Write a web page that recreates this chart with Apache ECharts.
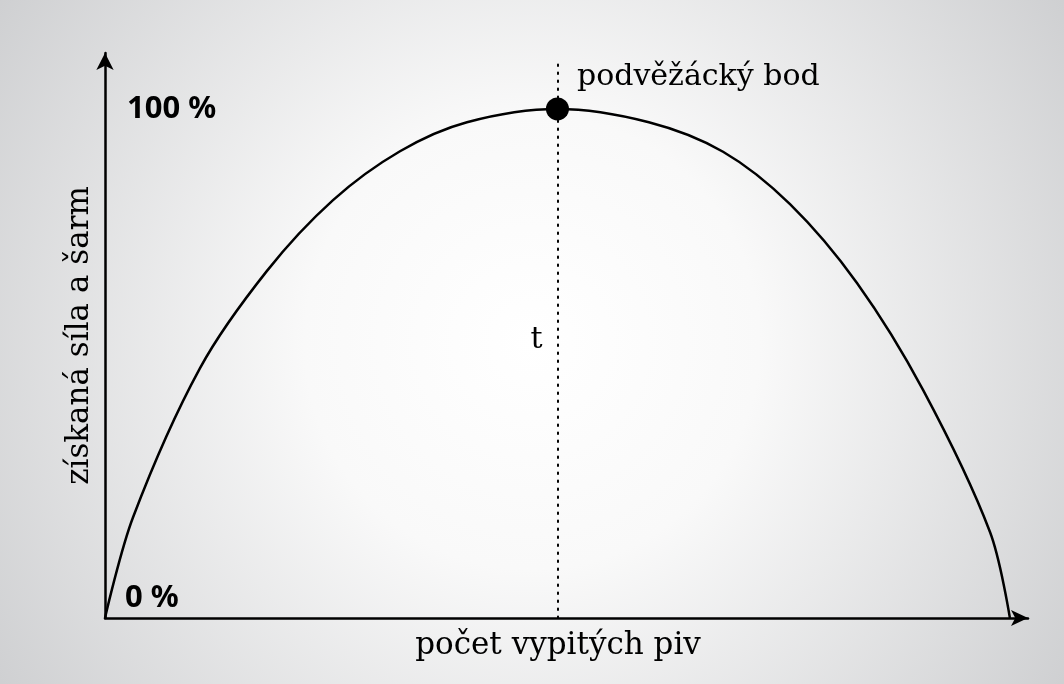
<!DOCTYPE html>
<html>
<head>
<meta charset="utf-8">
<script src="https://cdn.jsdelivr.net/npm/echarts@6/dist/echarts.min.js"></script>
<style>
    html, body { margin: 0; padding: 0; }
    #chart { width: 1064px; height: 684px; }
</style>
</head>
<body>
<div id="chart"></div>
<script>
// pocet vypitych piv (relative, 0 - 100) a ziskana sila (%)
var beers = [0, 3.1, 10.5, 17.9, 25.2, 32.6, 40.0, 50, 60.1, 68.3, 75.7, 83.1, 90.4, 97.8, 100];
var strength = [0, 19.8, 49.1, 68.2, 82.1, 91.7, 97.4, 100, 97.4, 91.6, 81.3, 65.8, 44.8, 16.9, 0];
var peak = [50, 100];
var peakLabel = 'podvěžácký bod';
var tLabel = 't';
var tPoint = [47.7, 54.6];
var yTicks = [0, 100];
var yTickLabels = ['0 %', '100 %'];
var xName = 'počet vypitých piv';
var yName = 'získaná síla a šarm';

var serif = '"DejaVu Serif", serif';
var sans = '"Noto Sans", sans-serif';

var curve = beers.map(function (b, i) { return [b, strength[i]]; });

var myChart = echarts.init(document.getElementById('chart'));
var option = {
    backgroundColor: {
        type: 'radial', x: 0.5, y: 0.5, r: 0.95,
        colorStops: [
            { offset: 0, color: '#ffffff' },
            { offset: 0.35, color: '#f9f9f9' },
            { offset: 1, color: '#cdced0' }
        ]
    },
    animation: false,
    grid: { left: 105, right: 36, top: 53, bottom: 66 },
    xAxis: {
        type: 'value', min: 0, max: 102,
        name: xName, nameLocation: 'middle', nameGap: 12,
        nameTextStyle: { fontFamily: serif, fontSize: 31, color: '#000', padding: [0, 17, 0, 0] },
        axisLine: { lineStyle: { color: '#000', width: 2.5 }, symbol: ['none', 'arrow'], symbolSize: [12, 17] },
        axisTick: { show: false },
        axisLabel: { show: false },
        splitLine: { show: false }
    },
    yAxis: {
        type: 'value', min: 0, max: 111,
        name: yName, nameLocation: 'middle', nameGap: 10, nameRotate: 90,
        nameTextStyle: { fontFamily: serif, fontSize: 31, color: '#000' },
        axisLine: { show: true, lineStyle: { color: '#000', width: 2.5 }, symbol: ['none', 'arrow'], symbolSize: [13, 17] },
        axisTick: { show: false },
        axisLabel: { show: false },
        splitLine: { show: false }
    },
    series: [
        {
            name: 'sila',
            type: 'line',
            data: curve,
            smooth: 0.33,
            showSymbol: false,
            lineStyle: { color: '#000', width: 2.5 },
            markLine: {
                silent: true,
                symbol: ['none', 'none'],
                label: { show: false },
                lineStyle: { color: '#000', width: 2, type: [1.5, 6.5], cap: 'round' },
                data: [[{ coord: [peak[0], 0] }, { coord: [peak[0], 110] }]]
            }
        },
        {
            name: 'bod',
            type: 'scatter',
            data: [peak],
            symbolSize: 23,
            itemStyle: { color: '#000', opacity: 1 },
            label: {
                show: true, position: 'right', distance: 8, offset: [0, -32],
                formatter: peakLabel,
                fontFamily: serif, fontSize: 30, color: '#000'
            }
        },
        {
            name: 't',
            type: 'scatter',
            data: [tPoint],
            symbolSize: 0,
            itemStyle: { opacity: 1 },
            label: {
                show: true, position: 'inside', formatter: tLabel,
                fontFamily: serif, fontSize: 30, color: '#000'
            }
        },
        {
            name: 'osa',
            type: 'scatter',
            symbolSize: 0,
            itemStyle: { opacity: 1 },
            data: yTicks.map(function (v, i) {
                return {
                    value: [0, v],
                    label: {
                        show: true, position: 'right', distance: 22,
                        offset: v === 0 ? [-2, -20] : [0, 0],
                        formatter: yTickLabels[i],
                        fontFamily: sans, fontWeight: 'bold', fontSize: 31, color: '#000'
                    }
                };
            })
        }
    ]
};
if (option && typeof option === "object") {
    myChart.setOption(option, true);
}
</script>
</body>
</html>
